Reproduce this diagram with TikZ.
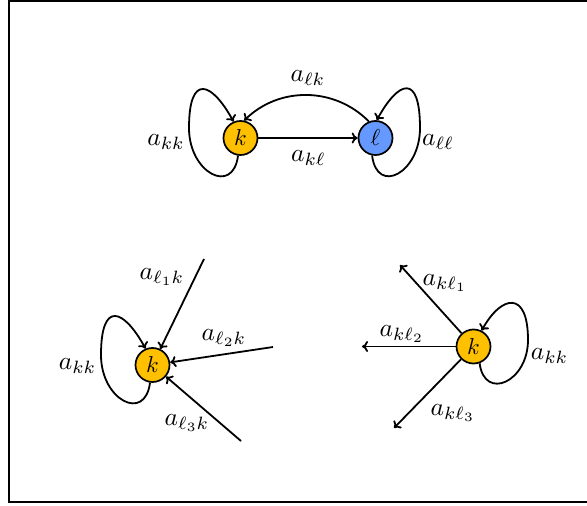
\RequirePackage{fix-cm}
\documentclass[tikz,border=0pt]{standalone}
\usetikzlibrary{arrows.meta}
\definecolor{kcol}{RGB}{255,192,0}
\definecolor{lcol}{RGB}{102,153,255}
\newcommand{\vtxt}[1]{\scalebox{2.3}{$#1$}}
\tikzset{
  vert/.style={circle, draw, line width=1.7pt, minimum size=34pt, inner sep=0pt},
  lab/.style={inner sep=0.5pt, scale=2.55},
  edge/.style={line width=1.8pt, -{To[length=6pt,width=11pt]}},
  frame/.style={line width=2pt},
}
\begin{document}
\begin{tikzpicture}[x=1pt, y=1pt]
\useasboundingbox (0,0) rectangle (587,-506);
\draw[frame] (9,-0.5) rectangle (640,-502);

% top graph
\node[vert, fill=kcol] (k1) at (240.5,-138) {\vtxt{k}};
\node[vert, fill=lcol] (l1) at (375.5,-138) {\vtxt{\ell}};
\draw[edge] (k1) -- (l1);
\draw[edge] (l1.112) to[bend right=45] (k1.78);
\draw[edge] (k1.-98) .. controls +(-5,-40) and +(0,-45) .. ([shift={(-51.5,10)}]k1.center)
  .. controls +(0,55) and +(-22,40) .. (k1.113);
\draw[edge] (l1.-101) .. controls +(5,-40) and +(0,-45) .. ([shift={(44.5,10)}]l1.center)
  .. controls +(0,55) and +(22,40) .. (l1.86);
\node[lab] (lk) at (308,-78) {$a_{\ell k}$};
\node[lab] (kl) at (308.5,-158) {$a_{k\ell}$};
\node[lab] (kk1) at (166,-142) {$a_{kk}$};
\node[lab] (ll) at (438,-142) {$a_{\ell\ell}$};

% bottom left
\node[vert, fill=kcol] (k2) at (152.5,-365) {\vtxt{k}};
\coordinate (p1) at (204,-259);
\coordinate (p2) at (273,-347);
\coordinate (p3) at (241,-441);
\draw[edge] (p1) -- (k2);
\draw[edge] (p2) -- (k2);
\draw[edge] (p3) -- (k2);
\draw[edge] (k2.-98) .. controls +(-5,-40) and +(0,-45) .. ([shift={(-51.5,10)}]k2.center)
  .. controls +(0,55) and +(-22,40) .. (k2.113);
\node[lab] (l1k) at (162,-277) {$a_{\ell_1 k}$};
\node[lab] (l2k) at (224,-338) {$a_{\ell_2 k}$};
\node[lab] (l3k) at (187,-423) {$a_{\ell_3 k}$};
\node[lab] (kk2) at (77.5,-366) {$a_{kk}$};

% bottom right
\node[vert, fill=kcol] (k3) at (473.5,-346.5) {\vtxt{k}};
\coordinate (q1) at (400,-265);
\coordinate (q2) at (362,-346.5);
\coordinate (q3) at (394,-428);
\draw[edge] (k3) -- (q1);
\draw[edge] (k3) -- (q2);
\draw[edge] (k3) -- (q3);
\draw[edge] (k3.-70) .. controls +(5,-38) and +(0,-42) .. ([shift={(54.5,6.5)}]k3.center)
  .. controls +(0,50) and +(20,36) .. (k3.63);
\node[lab] (kl1) at (445,-283) {$a_{k\ell_1}$};
\node[lab] (kl2) at (402,-334) {$a_{k\ell_2}$};
\node[lab] (kl3) at (453,-413) {$a_{k\ell_3}$};
\node[lab] (kk3) at (549.5,-356) {$a_{kk}$};
\end{tikzpicture}
\end{document}
